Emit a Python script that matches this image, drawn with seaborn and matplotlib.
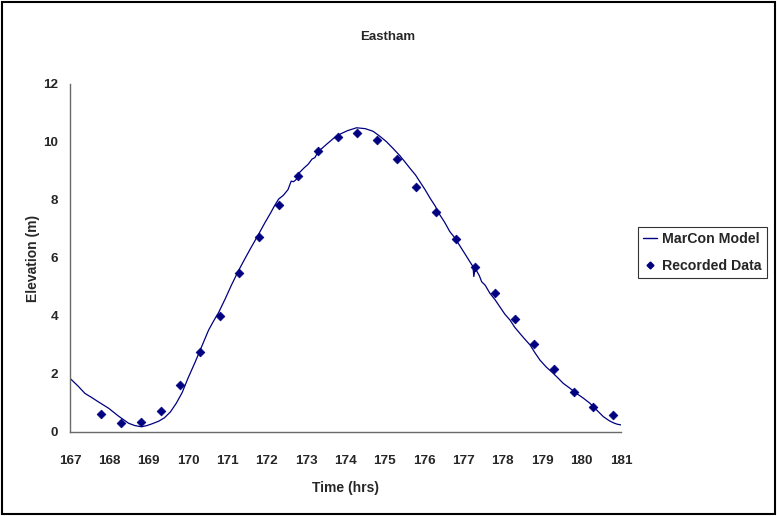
import matplotlib
matplotlib.use("Agg")
import matplotlib.pyplot as plt
import seaborn as sns
import pandas as pd
from matplotlib.patches import Rectangle
from matplotlib.lines import Line2D

# ---- data ----
model_time = [167.00, 167.20, 167.38, 167.55, 167.72, 167.98, 168.23, 168.49, 168.65, 168.82,
              168.95, 169.08, 169.25, 169.40, 169.55, 169.70, 169.85, 170.00, 170.18, 170.35,
              170.52, 170.65, 170.78, 170.95, 171.10, 171.28, 171.45, 171.60, 171.78, 171.95,
              172.10, 172.20, 172.30, 172.42, 172.54, 172.62, 172.68, 172.75, 172.84, 172.95,
              173.05, 173.15, 173.22, 173.31, 173.51, 173.70, 173.86, 174.05, 174.28, 174.50,
              174.70, 174.88, 175.04, 175.20, 175.38, 175.50, 175.64, 175.78, 175.89, 176.02,
              176.15, 176.28, 176.40, 176.52, 176.65, 176.78, 176.91, 177.05, 177.16, 177.24,
              177.26, 177.30, 177.33, 177.40, 177.46, 177.55, 177.67, 177.80, 177.92, 178.05,
              178.18, 178.30, 178.43, 178.55, 178.69, 178.80, 178.94, 179.10, 179.28, 179.40,
              179.53, 179.70, 179.87, 180.05, 180.21, 180.38, 180.55, 180.70, 180.80, 180.90,
              181.01]
model_elev = [1.84, 1.58, 1.32, 1.18, 1.03, 0.81, 0.54, 0.29, 0.21, 0.17,
              0.21, 0.27, 0.36, 0.48, 0.68, 0.98, 1.35, 1.85, 2.40, 2.95,
              3.50, 3.82, 4.12, 4.60, 5.05, 5.55, 5.98, 6.35, 6.78, 7.20,
              7.55, 7.80, 8.02, 8.15, 8.35, 8.64, 8.62, 8.70, 8.95, 9.10,
              9.22, 9.40, 9.45, 9.66, 9.90, 10.12, 10.26, 10.38, 10.48, 10.45,
              10.36, 10.18, 10.00, 9.78, 9.52, 9.32, 9.08, 8.85, 8.62, 8.35,
              8.05, 7.78, 7.47, 7.22, 6.90, 6.68, 6.40, 6.10, 5.86, 5.69,
              5.35, 5.68, 5.55, 5.38, 5.17, 5.05, 4.77, 4.55, 4.31, 4.05,
              3.85, 3.60, 3.39, 3.20, 2.99, 2.75, 2.47, 2.23, 2.01, 1.85,
              1.67, 1.50, 1.32, 1.15, 0.98, 0.75, 0.52, 0.38, 0.31, 0.26,
              0.23]

data_time = [167.8, 168.3, 168.8, 169.3, 169.8, 170.3, 170.8, 171.3, 171.8, 172.3,
             172.8, 173.3, 173.8, 174.3, 174.8, 175.3, 175.8, 176.3, 176.8, 177.3,
             177.8, 178.3, 178.8, 179.3, 179.8, 180.3, 180.8]
data_elev = [0.62, 0.30, 0.35, 0.71, 1.60, 2.75, 4.00, 5.48, 6.71, 7.81,
             8.81, 9.69, 10.16, 10.31, 10.05, 9.39, 8.45, 7.58, 6.66, 5.68,
             4.79, 3.88, 3.01, 2.17, 1.37, 0.86, 0.58]

x_ticks = list(range(167, 182))
y_ticks = [0, 2, 4, 6, 8, 10, 12]

title = "Eastham"
xlabel = "Time (hrs)"
ylabel = "Elevation (m)"
series_names = ["MarCon Model", "Recorded Data"]

# ---- style ----
sns.set_style("white")
plt.rcParams["font.family"] = ["Liberation Sans", "DejaVu Sans"]
plt.rcParams["font.weight"] = "bold"

navy = "#000080"
axis_col = "#6a6a6a"

fig = plt.figure(figsize=(7.77, 5.16), dpi=100)
ax = fig.add_axes([70 / 777, 1 - 431.7 / 516, (621 - 70) / 777, (431.7 - 83.7) / 516])

model_df = pd.DataFrame({"t": model_time, "e": model_elev})
data_df = pd.DataFrame({"t": data_time, "e": data_elev})

sns.lineplot(data=model_df, x="t", y="e", ax=ax, color=navy, linewidth=0.9,
             sort=False, estimator=None)
sns.scatterplot(data=data_df, x="t", y="e", ax=ax, color=navy, marker="D",
                s=20, edgecolor=navy, linewidth=0.5, zorder=3)

ax.set_xlim(167, 181)
ax.set_ylim(0, 12)
ax.set_xticks(x_ticks)
ax.set_xticklabels([str(v) for v in x_ticks])
ax.set_yticks(y_ticks)
ax.set_yticklabels([str(v) for v in y_ticks])

for s in ["top", "right"]:
    ax.spines[s].set_visible(False)
for s in ["left", "bottom"]:
    ax.spines[s].set_color(axis_col)
    ax.spines[s].set_linewidth(1.0)
ax.tick_params(axis="both", which="major", direction="out", length=5, width=1.0,
               color=axis_col, labelsize=9.7)
ax.tick_params(axis="x", pad=12)
ax.tick_params(axis="y", pad=3.5)
for lbl in ax.get_xticklabels() + ax.get_yticklabels():
    lbl.set_fontweight("bold")

ax.set_xlabel("")
ax.set_ylabel("")
fig.text(345 / 777, 1 - 488 / 516, xlabel, ha="center", va="center",
         fontsize=10, fontweight="bold")
fig.text(33 / 777, 1 - 258 / 516, ylabel, ha="center", va="center",
         rotation=90, fontsize=10, fontweight="bold")
fig.text(388 / 777, 1 - 37 / 516, title, ha="center", va="center",
         fontsize=9.5, fontweight="bold")

handles = [
    Line2D([0], [0], color=navy, linewidth=1.0),
    Line2D([0], [0], color=navy, marker="D", markersize=3.5, linestyle="None"),
]
leg = fig.legend(handles, series_names, loc="upper left",
                 bbox_to_anchor=(638 / 777, 1 - 227 / 516),
                 frameon=True, fancybox=False, edgecolor="black",
                 prop={"weight": "bold", "size": 10.2},
                 handlelength=1.0, handletextpad=0.35, borderpad=0.35,
                 labelspacing=0.95, borderaxespad=0)
leg.get_frame().set_linewidth(0.8)

# outer chart border
fig.patches.append(Rectangle((0.003, 0.004), 0.994, 0.992, transform=fig.transFigure,
                             fill=False, edgecolor="black", linewidth=1.5))

fig.savefig("out.png", dpi=100)
